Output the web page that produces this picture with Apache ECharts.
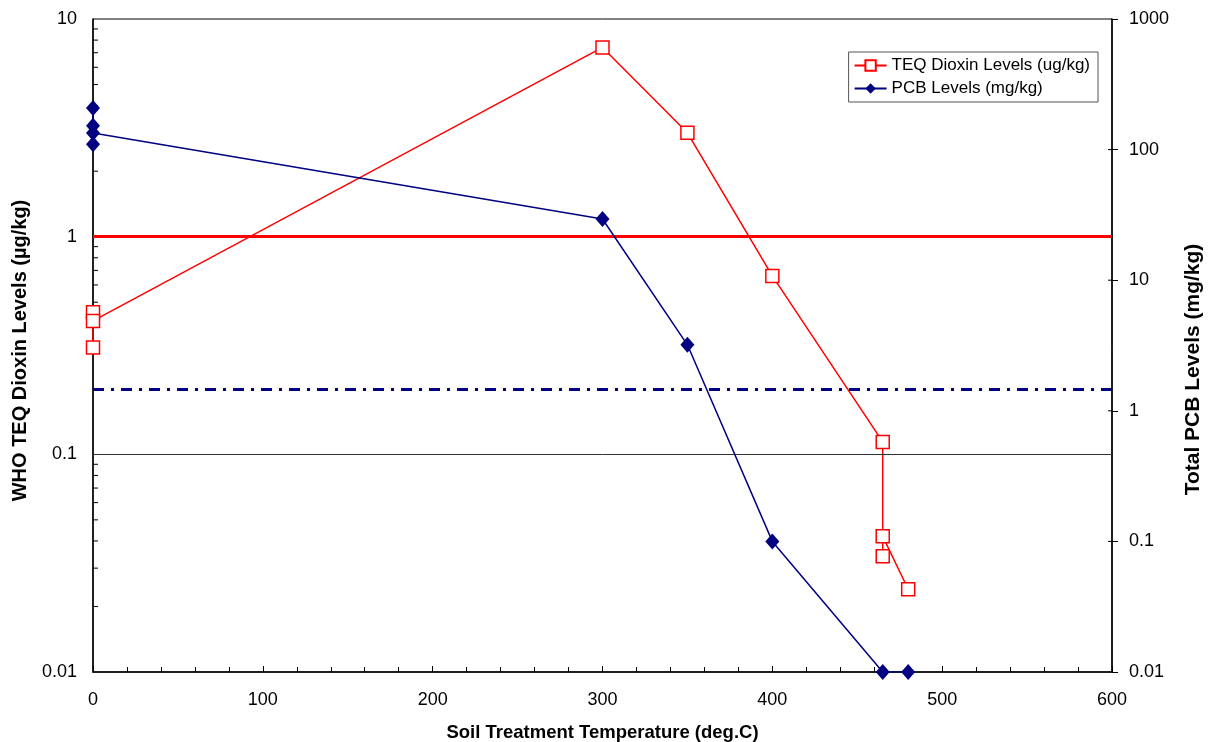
<!DOCTYPE html>
<html>
<head>
<meta charset="utf-8">
<script src="https://cdn.jsdelivr.net/npm/echarts@6/dist/echarts.min.js"></script>
<style>
html, body { margin: 0; padding: 0; background: #fff; }
#chart { width: 1208px; height: 742px; }
</style>
</head>
<body>
<div id="chart"></div>
<script>
var dom = document.getElementById("chart");
var myChart = echarts.init(dom);

// TEQ dioxin (ug/kg), left axis
var teqTemp = [0, 0, 0, 300, 350, 400, 465, 465, 465, 480];
var teqVals = [0.45, 0.31, 0.41, 7.4, 3.0, 0.66, 0.114, 0.034, 0.042, 0.024];
// PCB (mg/kg), right axis
var pcbTemp = [0, 0, 0, 0, 300, 350, 400, 465, 480];
var pcbVals = [208, 152, 110, 134, 29.4, 3.2, 0.10, 0.01, 0.01];
// horizontal reference levels (left axis, ug/kg)
var refRed = 1;
var refBlue = 0.2;
var refGrey = 0.1;

// log minor ticks for the left axis (2..9 in each decade)
var leftMinor = [];
[0.01, 0.1, 1].forEach(function (d) {
	for (var m = 2; m <= 9; m++) leftMinor.push([0, +(m * d).toFixed(3)]);
});
// inner half of the right axis major ticks (they cross the axis)
var rightMajor = [0.1, 1, 10, 100].map(function (v) { return [600, v]; });

var font = 'Arial, "Liberation Sans", sans-serif';
function logLabel(v) {
	return String(+v.toPrecision(3));
}

var option = {
	animation: false,
	textStyle: { fontFamily: font },
	grid: {
		left: 93, right: 96, top: 19, bottom: 70,
		outerBoundsMode: 'none',
		containLabel: false,
		show: true, borderColor: '#000', borderWidth: 1
	},
	legend: {
		orient: 'vertical',
		right: 110, top: 52,
		padding: [5, 8, 5, 5],
		itemGap: 6,
		itemWidth: 32, itemHeight: 13,
		backgroundColor: '#fff',
		borderColor: '#555', borderWidth: 1,
		textStyle: { fontSize: 17, color: '#000', fontFamily: font },
		data: ['TEQ Dioxin Levels (ug/kg)', 'PCB Levels (mg/kg)']
	},
	xAxis: {
		type: 'value',
		min: 0, max: 600, interval: 100,
		name: 'Soil Treatment Temperature (deg.C)',
		nameLocation: 'middle', nameGap: 51,
		nameTextStyle: { fontSize: 18.5, fontWeight: 'bold', color: '#000' },
		axisLine: { lineStyle: { color: '#000', width: 1.5 } },
		axisTick: { inside: true, length: 6, lineStyle: { color: '#000' } },
		minorTick: { show: true, splitNumber: 5, length: 5, lineStyle: { color: '#000' } },
		axisLabel: { fontSize: 18, color: '#000', margin: 19 },
		splitLine: { show: false }
	},
	yAxis: [
		{
			type: 'log', logBase: 10,
			min: 0.01, max: 10,
			name: 'WHO TEQ Dioxin Levels (\u00b5g/kg)',
			nameLocation: 'middle', nameGap: 63,
			nameTextStyle: { fontSize: 20, fontWeight: 'bold', color: '#000', padding: [0, 10, 0, 0] },
			axisLine: { show: true, lineStyle: { color: '#000', width: 1.5 } },
			axisTick: { show: false },
			axisLabel: { fontSize: 18, color: '#000', margin: 16, formatter: logLabel },
			splitLine: { show: false }
		},
		{
			type: 'log', logBase: 10,
			min: 0.01, max: 1000,
			position: 'right',
			name: 'Total PCB Levels (mg/kg)',
			nameLocation: 'middle', nameGap: 71,
			nameTextStyle: { fontSize: 21, fontWeight: 'bold', color: '#000', padding: [0, 48, 0, 0] },
			axisLine: { show: true, lineStyle: { color: '#000', width: 1.5 } },
			axisTick: { show: true, inside: false, length: 6, lineStyle: { color: '#000' } },
			axisLabel: { fontSize: 18, color: '#000', margin: 17, formatter: logLabel },
			splitLine: { show: false }
		}
	],
	series: [
		{
			name: 'TEQ Dioxin Levels (ug/kg)',
			type: 'line',
			yAxisIndex: 0,
			data: teqTemp.map(function (t, i) { return [t, teqVals[i]]; }),
			symbol: 'rect',
			symbolSize: 13,
			lineStyle: { color: '#ff0000', width: 1.5 },
			itemStyle: { color: '#fff', borderColor: '#ff0000', borderWidth: 1.5 },
			z: 4,
			markLine: {
				silent: true,
				symbol: 'none',
				label: { show: false },
				data: [
					{ yAxis: refRed, lineStyle: { color: '#ff0000', width: 3, type: 'solid' } },
					{ yAxis: refBlue, lineStyle: { color: '#000080', width: 3, type: [11, 7, 3, 7] } },
					{ yAxis: refGrey, lineStyle: { color: '#333', width: 1, type: 'solid' } }
				]
			}
		},
		{
			name: 'PCB Levels (mg/kg)',
			type: 'line',
			yAxisIndex: 1,
			data: pcbTemp.map(function (t, i) { return [t, pcbVals[i]]; }),
			symbol: 'diamond',
			symbolSize: [14, 16],
			lineStyle: { color: '#000080', width: 1.5 },
			itemStyle: { color: '#000080' },
			z: 5
		},
		{
			type: 'custom',
			yAxisIndex: 0,
			silent: true,
			clip: false,
			data: leftMinor,
			renderItem: function (params, api) {
				var p = api.coord([api.value(0), api.value(1)]);
				return {
					type: 'line',
					shape: { x1: p[0], y1: p[1], x2: p[0] + 5, y2: p[1] },
					style: { stroke: '#000', lineWidth: 1 }
				};
			}
		},
		{
			type: 'custom',
			yAxisIndex: 1,
			silent: true,
			clip: false,
			data: rightMajor,
			renderItem: function (params, api) {
				var p = api.coord([api.value(0), api.value(1)]);
				return {
					type: 'line',
					shape: { x1: p[0] - 4, y1: p[1], x2: p[0], y2: p[1] },
					style: { stroke: '#000', lineWidth: 1 }
				};
			}
		}
	]
};
myChart.setOption(option);
window.onresize = function () { myChart.resize(); };
</script>
</body>
</html>
